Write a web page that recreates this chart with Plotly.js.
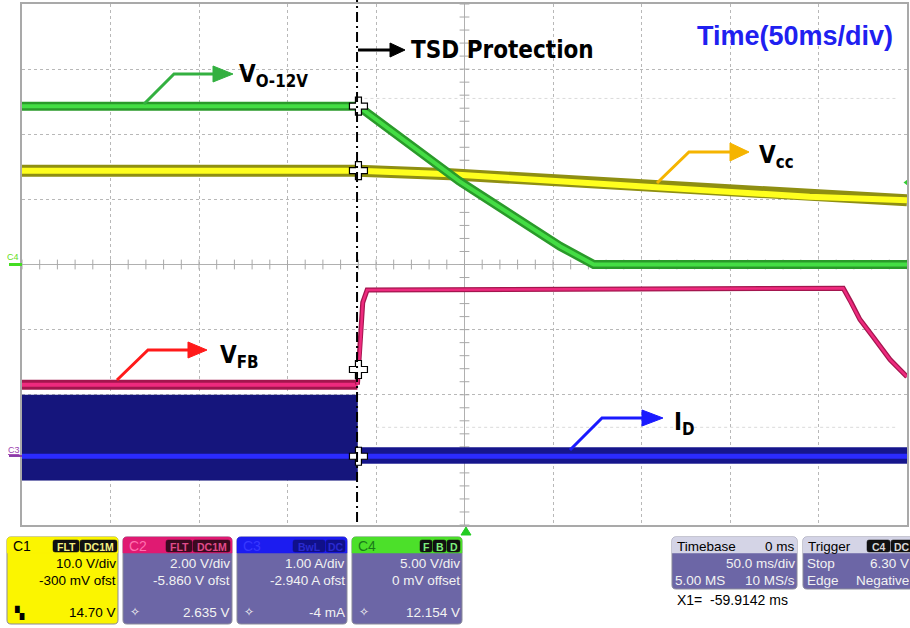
<!DOCTYPE html>
<html><head><meta charset="utf-8">
<script src="https://cdn.plot.ly/plotly-3.0.1.min.js"></script>
<style>html,body{margin:0;padding:0;background:#fff;overflow:hidden}#chart{width:910px;height:628px}</style>
</head><body><div id="chart"></div>
<script>
// ---------- DATA ----------
// time axis: 50 ms/div, 10 divisions, centred on trigger (0 ms)
const timeTicks = [-250,-200,-150,-100,-50,0,50,100,150,200,250];
const divTicks = [-4,-3,-2,-1,0,1,2,3,4];

// channel settings
const chNames  = ["C1","C2","C3","C4"];
const chScale  = [10.0, 2.00, 1.00, 5.00];      // units per division
const chOffset = [-0.300, -5.860, -2.940, 0.0]; // channel offsets
const chUnits  = ["V","V","A","V"];

// cursor X1 and the channel readings at the cursor
const cursorT = -59.9142;
const cursorVals = [14.70, 2.635, -0.004, 12.154];

// C1 : Vcc (V)
const vccT = [-250, -60, -8, 105, 195, 250];
const vccV = [14.70, 14.70, 14.15, 12.30, 10.70, 10.15];

// C4 : Vo-12V (V)
const voT = [-250, -60, -3, 54, 73, 250];
const voV = [12.15, 12.15, 6.40, 1.40, 0.0, 0.0];

// C2 : VFB (V)
const vfbPreT = [-250, -60.5];
const vfbPreV = [2.17, 2.17];
const vfbT = [-60.5, -59, -57.5, -55, 214, 218.5, 223.4, 230.8, 240.4, 250];
const vfbV = [2.17, 3.25, 4.69, 5.08, 5.13, 4.69, 4.17, 3.64, 2.94, 2.41];

// C3 : ID (A) - switching envelope before TSD, idle after
const idPreT  = [-250, -60.3];
const idPreHi = [0.94, 0.94];
const idPreLo = [-0.37, -0.37];
const idPostT  = [-60.3, 250];
const idPostHi = [0.125, 0.125];
const idPostLo = [-0.11, -0.11];
const idMidT = [-250, 250];
const idMid  = [-0.004, -0.004];

// trigger: C4, DC, stop, 6.30 V, negative edge
const trigLevel = 6.30;

// ---------- helpers ----------
const PL=22, PR=907, PT=4, PB=525;
function px(x){return (x-PL)/(PR-PL);}
function py(y){return (PB-y)/(PB-PT);}
function P(x,y){return px(x).toFixed(5)+','+py(y).toFixed(5);}
function rrect(x0,y0,x1,y1,r){
  return 'M'+P(x0+r,y0)+' L'+P(x1-r,y0)+' Q'+P(x1,y0)+' '+P(x1,y0+r)+' L'+P(x1,y1-r)+' Q'+P(x1,y1)+' '+P(x1-r,y1)+
         ' L'+P(x0+r,y1)+' Q'+P(x0,y1)+' '+P(x0,y1-r)+' L'+P(x0,y0+r)+' Q'+P(x0,y0)+' '+P(x0+r,y0)+' Z';
}
function topRect(x0,y0,x1,y1,r){
  return 'M'+P(x0+r,y0)+' L'+P(x1-r,y0)+' Q'+P(x1,y0)+' '+P(x1,y0+r)+' L'+P(x1,y1)+' L'+P(x0,y1)+' L'+P(x0,y0+r)+' Q'+P(x0,y0)+' '+P(x0+r,y0)+' Z';
}
const shapes=[], anns=[];
function pathShape(d,fill,line,lw){shapes.push({type:'path',xref:'paper',yref:'paper',path:d,fillcolor:fill||'rgba(0,0,0,0)',line:{color:line||'rgba(0,0,0,0)',width:lw||0},layer:'above'});}
function polyline(pts,color,w){
  let d='M'+P(pts[0][0],pts[0][1]);
  for(let i=1;i<pts.length;i++) d+=' L'+P(pts[i][0],pts[i][1]);
  shapes.push({type:'path',xref:'paper',yref:'paper',path:d,line:{color:color,width:w},layer:'above'});
}
function tri(a,b,c,color){pathShape('M'+P(a[0],a[1])+' L'+P(b[0],b[1])+' L'+P(c[0],c[1])+' Z',color,color,1);}
function ann(x,y,text,o){
  o=o||{};
  anns.push({xref:'paper',yref:'paper',x:px(x),y:py(y),text:text,showarrow:false,
    xanchor:o.xa||'left',yanchor:o.ya||'middle',borderpad:0,
    font:{family:o.fam||'Liberation Sans, Arial, sans-serif',size:o.size||13,color:o.color||'#000',weight:o.weight||'normal'}});
}

// ---------- traces ----------
const traces=[];
// minor ticks on the centre cross
const mtx=[],mty=[],mvx=[],mvy=[];
for(let t=-250;t<=250;t+=10){mtx.push(t);mty.push(0);}
for(let d=-4;d<=4.001;d+=0.2){mvx.push(0);mvy.push(+d.toFixed(2));}
traces.push({x:mtx,y:mty,mode:'markers',marker:{symbol:'line-ns',size:7,line:{color:'#a8a8a8',width:1}},hoverinfo:'skip',xaxis:'x',yaxis:'y'});
traces.push({x:mvx,y:mvy,mode:'markers',marker:{symbol:'line-ew',size:7,line:{color:'#a8a8a8',width:1}},hoverinfo:'skip',xaxis:'x',yaxis:'y'});

// C3 ID (yaxis4)
traces.push({x:idPreT,y:idPreHi,mode:'lines',line:{width:0,color:'#15157c'},yaxis:'y4',hoverinfo:'skip'});
traces.push({x:idPreT,y:idPreLo,mode:'lines',line:{width:1,color:'#15157c'},fill:'tonexty',fillcolor:'#15157c',yaxis:'y4',hoverinfo:'skip'});
traces.push({x:idPostT,y:idPostHi,mode:'lines',line:{width:1,color:'#16168c'},yaxis:'y4',hoverinfo:'skip'});
traces.push({x:idPostT,y:idPostLo,mode:'lines',line:{width:1,color:'#16168c'},fill:'tonexty',fillcolor:'#16168c',yaxis:'y4',hoverinfo:'skip'});
traces.push({x:idMidT,y:idMid,mode:'lines',line:{width:5,color:'#2b2bff'},yaxis:'y4',hoverinfo:'skip'});

// C2 VFB (yaxis3)
traces.push({x:vfbPreT,y:vfbPreV,mode:'lines',line:{width:10,color:'#a3164e'},yaxis:'y3',hoverinfo:'skip'});
traces.push({x:vfbPreT,y:vfbPreV,mode:'lines',line:{width:4,color:'#ee2a7e'},yaxis:'y3',hoverinfo:'skip'});
traces.push({x:vfbT,y:vfbV,mode:'lines',line:{width:5,color:'#a3164e'},yaxis:'y3',hoverinfo:'skip'});
traces.push({x:vfbT,y:vfbV,mode:'lines',line:{width:2.5,color:'#ee2a7e'},yaxis:'y3',hoverinfo:'skip'});

// C1 Vcc (yaxis2)
traces.push({x:vccT,y:vccV,mode:'lines',line:{width:12,color:'#8f8f12'},yaxis:'y2',hoverinfo:'skip'});
traces.push({x:vccT,y:vccV,mode:'lines',line:{width:6,color:'#ffff1e'},yaxis:'y2',hoverinfo:'skip'});

// C4 Vo (yaxis5)
traces.push({x:voT,y:voV,mode:'lines',line:{width:9,color:'#2a9a2a'},yaxis:'y5',hoverinfo:'skip'});
traces.push({x:voT,y:voV,mode:'lines',line:{width:4,color:'#44dd44'},yaxis:'y5',hoverinfo:'skip'});

// trigger level marker (C4)
traces.push({x:[250],y:[trigLevel],mode:'markers',marker:{symbol:'triangle-left',size:7,color:'#33cc33'},yaxis:'y5',cliponaxis:false,hoverinfo:'skip'});

// cursor crosses
const axOf=['y2','y3','y4','y5'];
for(let i=0;i<4;i++){
  traces.push({x:[cursorT],y:[cursorVals[i]],mode:'markers',marker:{symbol:'cross',size:15,color:'#ffffff',line:{color:'#000',width:1.2}},yaxis:axOf[i],cliponaxis:false,hoverinfo:'skip'});
}

// ---------- axes ----------
function chRange(i){return [-4*chScale[i]-chOffset[i], 4*chScale[i]-chOffset[i]];}
const layout={
  width:910,height:628,margin:{l:PL,r:910-PR,t:PT,b:628-PB,pad:0},
  paper_bgcolor:'#ffffff',plot_bgcolor:'#ffffff',showlegend:false,
  xaxis:{range:[-250,250],tickvals:timeTicks,showticklabels:false,ticks:'',showgrid:true,gridcolor:'#b8b8b8',griddash:'dot',gridwidth:1,
         zeroline:true,zerolinecolor:'#b0b0b0',zerolinewidth:1,showline:true,mirror:true,linecolor:'#a9a9a9',linewidth:2,fixedrange:true},
  yaxis:{range:[-4,4],tickvals:divTicks,showticklabels:false,ticks:'',showgrid:true,gridcolor:'#b8b8b8',griddash:'dot',gridwidth:1,
         zeroline:true,zerolinecolor:'#b0b0b0',zerolinewidth:1,showline:true,mirror:true,linecolor:'#a9a9a9',linewidth:2,fixedrange:true},
  yaxis2:{overlaying:'y',range:chRange(0),visible:false,fixedrange:true},
  yaxis3:{overlaying:'y',range:chRange(1),visible:false,fixedrange:true},
  yaxis4:{overlaying:'y',range:chRange(2),visible:false,fixedrange:true},
  yaxis5:{overlaying:'y',range:chRange(3),visible:false,fixedrange:true},
  shapes:shapes,annotations:anns
};

// faint dotted reference rows
shapes.push({type:'line',xref:'x',yref:'y',x0:cursorT,x1:245,y0:2.55,y1:2.55,line:{color:'#dadada',width:1,dash:'dot'},layer:'below'});
shapes.push({type:'line',xref:'x',yref:'y',x0:cursorT+10,x1:245,y0:-2.5,y1:-2.5,line:{color:'#dadada',width:1,dash:'dot'},layer:'below'});

// TSD dash-dot line at cursor
shapes.push({type:'line',xref:'x',yref:'paper',x0:cursorT-0.8,x1:cursorT-0.8,y0:py(522),y1:py(0),line:{color:'#000',width:2,dash:'10px,4px,2px,4px'},layer:'above'});

// ground markers
shapes.push({type:'line',xref:'paper',yref:'y5',x0:px(9),x1:px(22),y0:0,y1:0,line:{color:'#44dd22',width:3}});
anns.push({xref:'paper',yref:'y5',x:px(13),y:0,yshift:8,text:'C4',showarrow:false,xanchor:'center',yanchor:'middle',font:{family:'Liberation Sans, Arial',size:9,color:'#66dd22'}});
shapes.push({type:'line',xref:'paper',yref:'y4',x0:px(9),x1:px(22),y0:0,y1:0,line:{color:'#8a3aa8',width:2}});
anns.push({xref:'paper',yref:'y4',x:px(14),y:0,yshift:6,text:'<u>C3</u>',showarrow:false,xanchor:'center',yanchor:'middle',font:{family:'Liberation Sans, Arial',size:9,color:'#9b3fb0'}});

// trigger time marker
tri([461,535],[471,535],[466,527],'#22cc22');

// ---------- annotation arrows ----------
const NARROW='DejaVu Sans Condensed, Liberation Sans Narrow, Arial Narrow, sans-serif';
// TSD
polyline([[358,50],[391,50]],'#000',3); tri([390,43],[405,50],[390,57],'#000');
ann(410,50,'<b>TSD Protection</b>',{size:24,fam:NARROW});
// Time
ann(894,36,'<b>Time(50ms/div)</b>',{size:27,xa:'right',color:'#2020f0',fam:'Liberation Sans, Arial'});
// Vo
polyline([[144,104],[174,74],[214,74]],'#33b040',3); tri([213,66],[233,74],[213,82],'#33b040');
ann(238,76,'<b>V<sub>O-12V</sub></b>',{size:24,fam:NARROW});
// Vcc
polyline([[657,183],[689,152],[731,152]],'#f5b400',3); tri([730,143],[749,152],[730,161],'#f5b400');
ann(758,156,'<b>V<sub>cc</sub></b>',{size:24,fam:NARROW});
// VFB
polyline([[117,380],[148,350],[189,350]],'#ff1a1a',3); tri([188,342],[207,350],[188,358],'#ff1a1a');
ann(219,356,'<b>V<sub>FB</sub></b>',{size:24,fam:NARROW});
// ID
polyline([[570,450],[602,418],[643,418]],'#1a1aff',3); tri([642,410],[663,418],[642,426],'#1a1aff');
ann(673,423,'<b>I<sub>D</sub></b>',{size:24,fam:NARROW});

// ---------- bottom info boxes ----------
const BODY='#6c66a6', TXT='#f2f2f2';
function tag(x0,x1,label,bg,fg){pathShape(rrect(x0,540,x1,552,2),bg,bg,0.5);ann((x0+x1)/2,546.5,'<b>'+label+'</b>',{size:10.5,xa:'center',color:fg});}
function chBox(x0,x1,head,headTxt,bodyCol,txtCol,name,tags,l1,l2,l3,icon){
  pathShape(rrect(x0,537,x1,624,4),bodyCol,'#8a8a9a',1);
  pathShape(topRect(x0,537,x1,553,4),head,head,0.5);
  ann(x0+5,546,name,{size:14,color:headTxt});
  tags.forEach(t=>tag(t[0],t[1],t[2],t[3],t[4]));
  ann(x1-1,563,l1,{size:13.5,xa:'right',color:txtCol});
  ann(x1-1,580,l2,{size:13.5,xa:'right',color:txtCol});
  ann(x1-1,612,l3,{size:13.5,xa:'right',color:txtCol});
  ann(x0+6,612,icon,{size:12,color:txtCol,fam:'DejaVu Sans'});
}
chBox(7,118,'#fbf500','#000','#fbf500','#000','C1',[[53,79,'FLT','#111','#f5f080'],[80,117,'DC1M','#111','#f5f080']],
      chScale[0].toFixed(1)+' V/div','-300 mV ofst',cursorVals[0].toFixed(2)+' V','▚');
chBox(123,232,'#e01a72','#ff70b0',BODY,TXT,'C2',[[166,192,'FLT','#3a0a20','#e04a8a'],[193,230,'DC1M','#3a0a20','#e04a8a']],
      chScale[1].toFixed(2)+' V/div',chOffset[1].toFixed(3)+' V ofst',cursorVals[1].toFixed(3)+' V','✧');
chBox(237,347,'#1c1cf0','#3838ff',BODY,TXT,'C3',[[293,325,'BwL','#10108a','#2a2ad0'],[326,345,'DC','#10108a','#2a2ad0']],
      chScale[2].toFixed(2)+' A/div',chOffset[2].toFixed(3)+' A ofst',Math.round(cursorVals[2]*1000)+' mA','✧');
chBox(352,462,'#4ce02a','#1a7a1a',BODY,TXT,'C4',[[420,432,'F','#111','#7ef07e'],[433,446,'B','#111','#7ef07e'],[447,460,'D','#111','#7ef07e']],
      chScale[3].toFixed(2)+' V/div','0 mV offset',cursorVals[3].toFixed(3)+' V','✧');

// timebase
pathShape(rrect(672,537,797,589,4),BODY,'#8a8a9a',1);
pathShape(topRect(672,537,797,553,4),'#d4d4e6','#d4d4e6',0.5);
ann(676,546,'Timebase',{size:13.5});
ann(796,546,'0 ms',{size:13.5,xa:'right'});
ann(796,563,'50.0 ms/div',{size:13.5,xa:'right',color:TXT});
ann(674,580,'5.00 MS',{size:13.5,color:TXT});
ann(796,580,'10 MS/s',{size:13.5,xa:'right',color:TXT});
// trigger
pathShape(rrect(803,537,915,589,4),BODY,'#8a8a9a',1);
pathShape(topRect(803,537,915,553,4),'#d4d4e6','#d4d4e6',0.5);
ann(807,546,'Trigger',{size:13.5});
tag(867,890,'C4','#111','#d8d8d8'); tag(891,912,'DC','#111','#d8d8d8');
ann(806,563,'Stop',{size:13.5,color:TXT});
ann(910,563,trigLevel.toFixed(2)+' V',{size:13.5,xa:'right',color:TXT});
ann(806,580,'Edge',{size:13.5,color:TXT});
ann(910,580,'Negative',{size:13.5,xa:'right',color:TXT});
ann(676,600,'X1=  '+cursorT.toFixed(4)+' ms',{size:14});

Plotly.newPlot('chart',traces,layout,{displayModeBar:false,staticPlot:true});
</script></body></html>
